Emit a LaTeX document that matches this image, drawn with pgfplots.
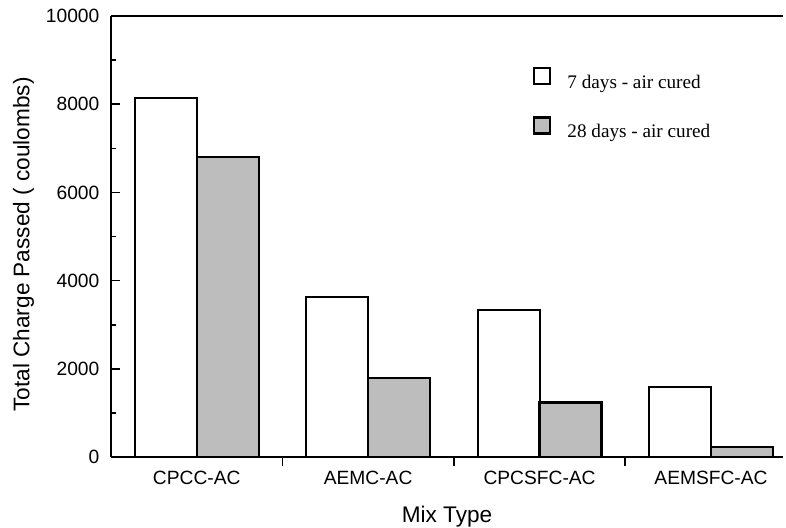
\documentclass[border=0pt]{standalone}
\usepackage{fontspec}
\setmainfont{Liberation Sans}
\newfontfamily\seriffont{Liberation Serif}
\usepackage{pgfplots}
\pgfplotsset{compat=1.18}
\definecolor{stipple}{gray}{0.74}
\begin{document}
\begin{tikzpicture}
\begin{axis}[
  scale only axis, width=336pt, height=220.5pt,
  xmin=-0.5, xmax=3.42, ymin=0, ymax=10000,
  every non boxed y axis/.style={ytick align=inside, y axis line style={-}},
  axis x line*=box, axis y line*=left,
  axis line style={line width=1pt},
  xtick={0.5,1.5,2.5}, xticklabels={},
  extra x ticks={0,1,2,3},
  extra x tick labels={CPCC-AC,AEMC-AC,CPCSFC-AC,AEMSFC-AC},
  extra x tick style={major tick length=0pt},
  xtick pos=left,
  ytick={0,2000,4000,6000,8000,10000}, minor y tick num=1,
  ytick pos=left,
  tick align=inside, ytick align=inside, major tick length=4.5pt, minor tick length=2.5pt,
  tick style={line width=0.8pt, black},
  scaled y ticks=false,
  /pgf/number format/assume math mode=true,
  yticklabel style={/pgf/number format/1000 sep={}, xshift=-2.3pt},
  xticklabel style={yshift=-3.3pt},
  ticklabel style={font=\fontsize{9.6}{11}\selectfont},
  ylabel={Total Charge Passed ( coulombs)},
  xlabel={Mix Type},
  label style={font=\fontsize{11.3}{13}\selectfont},
  ylabel style={at={(axis description cs:-0.1302,0.482)}, anchor=center},
  xlabel style={at={(axis description cs:0.5,0)}, anchor=north, yshift=-21.2pt},
  ybar, bar width=31pt,
  legend image code/.code={\draw[#1] (0pt,-0.5pt) rectangle (8pt,7.5pt);},
  legend cell align=left,
  legend style={at={(rel axis cs:0.628,0.8844)}, anchor=north west, draw=none, fill=none,
    inner sep=0pt, outer sep=0pt, nodes={inner sep=0pt, font=\seriffont\fontsize{9.6}{11}\selectfont},
    row sep=12.5pt, /tikz/every odd column/.append style={column sep=8pt}},
]
\addplot[draw=black, line width=1pt, fill=white, bar shift=-15.5pt]
  coordinates {(0,8130) (1,3620) (2,3335) (3,1590)};
\addplot[draw=black, line width=1.2pt, fill=stipple, bar shift=15.5pt]
  coordinates {(0,6800) (1,1785) (2,1240) (3,230)};
\legend{7 days - air cured, 28 days - air cured}
\end{axis}
\pgfresetboundingbox
\path[use as bounding box] (current axis.south west) ++(-55.5pt,-35pt) rectangle ++(393pt,263.5pt);
\end{tikzpicture}
\end{document}
